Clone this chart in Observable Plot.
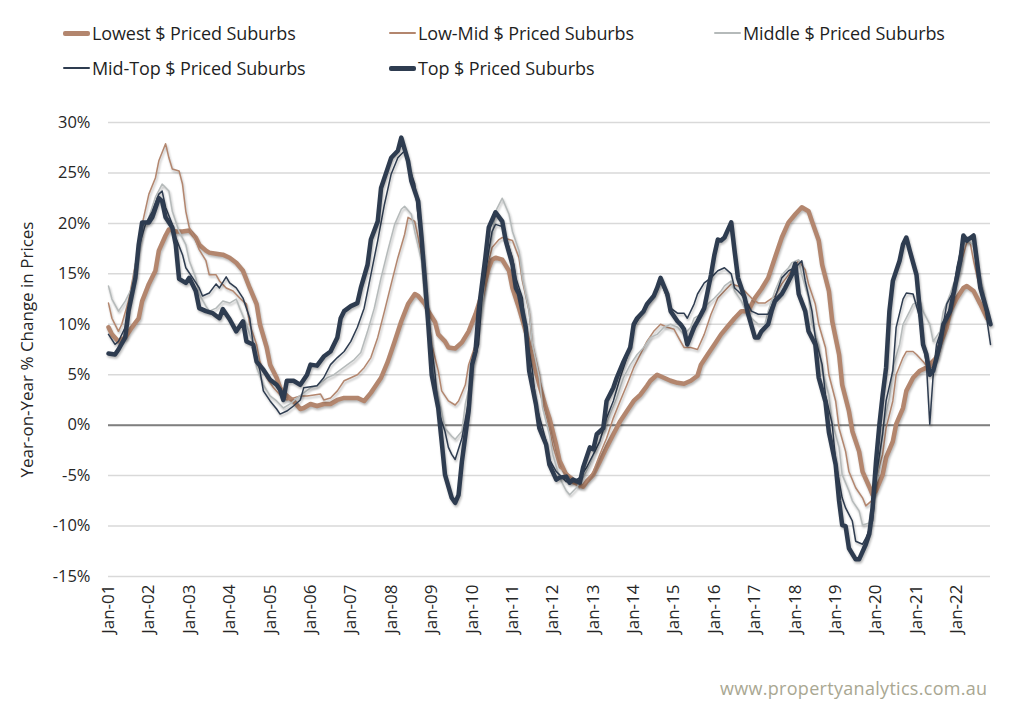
<!DOCTYPE html>
<html><head><meta charset="utf-8">
<script src="https://cdn.jsdelivr.net/npm/d3@7"></script>
<script src="https://cdn.jsdelivr.net/npm/@observablehq/plot@0.6"></script>
<style>
body{margin:0;background:#fff;font-family:"Open Sans",sans-serif;}
#wrap{position:relative;width:1024px;height:713px;overflow:hidden;}
#legend{position:relative;height:100px;}
.item{position:absolute;display:flex;align-items:center;height:24px;font-size:18px;color:#1f1f1f;white-space:nowrap;letter-spacing:-0.1px;}
.sw{width:27px;margin-right:2px;border-radius:2px;}
#caption{position:absolute;left:720px;top:676px;font-size:18px;color:#a9a792;letter-spacing:0.3px;}
</style></head>
<body><div id="wrap"><div id="legend"></div><div id="chart"></div><div id="caption">www.propertyanalytics.com.au</div></div>
<script>
const seriesNames = ["Lowest $ Priced Suburbs","Low-Mid $ Priced Suburbs","Middle $ Priced Suburbs","Mid-Top $ Priced Suburbs","Top $ Priced Suburbs"];
const seriesColors = ["#b3866e","#b3866e","#b5baba","#2e3c50","#2e3c50"];
const seriesWidths = [4.5,1.5,1.5,1.5,4.5];
const yTicks = [-15,-10,-5,0,5,10,15,20,25,30];
const xTickYears = [2001,2002,2003,2004,2005,2006,2007,2008,2009,2010,2011,2012,2013,2014,2015,2016,2017,2018,2019,2020,2021,2022];
const yLabel = "Year-on-Year % Change in Prices";

const lowest = [["2001-01",9.7],["2001-02",9.0],["2001-04",8.3],["2001-06",8.7],["2001-08",9.7],["2001-10",10.6],["2001-11",12.3],["2002-01",14.0],["2002-03",15.3],["2002-04",17.3],["2002-06",18.8],["2002-07",19.4],["2002-09",19.2],["2002-11",19.2],["2003-01",19.3],["2003-03",18.6],["2003-04",17.9],["2003-06",17.3],["2003-07",17.1],["2003-09",17.0],["2003-11",16.9],["2004-01",16.6],["2004-03",16.1],["2004-05",15.3],["2004-07",13.6],["2004-09",12.0],["2004-10",10.0],["2004-12",7.7],["2005-01",6.0],["2005-03",4.7],["2005-04",3.7],["2005-06",2.9],["2005-08",2.4],["2005-10",1.6],["2005-11",1.7],["2006-01",2.1],["2006-03",1.9],["2006-05",2.1],["2006-07",2.1],["2006-09",2.5],["2006-11",2.7],["2007-01",2.7],["2007-03",2.7],["2007-05",2.4],["2007-07",3.2],["2007-08",3.7],["2007-10",4.7],["2007-12",6.3],["2008-02",8.3],["2008-04",10.3],["2008-06",12.0],["2008-08",13.0],["2008-09",12.8],["2008-11",12.0],["2008-12",11.3],["2009-02",10.2],["2009-03",9.0],["2009-05",8.3],["2009-06",7.7],["2009-08",7.6],["2009-10",8.2],["2009-12",9.3],["2010-02",11.0],["2010-04",13.0],["2010-06",15.6],["2010-07",16.4],["2010-08",16.6],["2010-10",16.4],["2010-12",15.3],["2011-01",13.6],["2011-03",11.6],["2011-05",9.3],["2011-07",6.7],["2011-09",4.0],["2011-11",1.7],["2011-12",0.7],["2012-02",-2.0],["2012-03",-3.5],["2012-05",-4.9],["2012-07",-5.6],["2012-10",-6.1],["2012-11",-5.6],["2013-01",-4.9],["2013-03",-3.6],["2013-05",-2.2],["2013-07",-0.9],["2013-09",0.4],["2013-11",1.4],["2014-01",2.4],["2014-03",3.0],["2014-05",3.9],["2014-06",4.4],["2014-08",5.0],["2014-10",4.7],["2014-12",4.4],["2015-02",4.2],["2015-04",4.1],["2015-06",4.4],["2015-08",4.9],["2015-09",6.0],["2015-11",7.0],["2016-01",8.0],["2016-03",9.0],["2016-05",9.8],["2016-07",10.6],["2016-09",11.3],["2016-11",11.3],["2017-01",12.6],["2017-03",13.5],["2017-05",14.6],["2017-07",16.6],["2017-09",18.6],["2017-11",20.1],["2018-01",20.9],["2018-03",21.6],["2018-05",21.2],["2018-06",20.2],["2018-08",18.3],["2018-09",15.9],["2018-11",13.3],["2018-12",10.3],["2019-02",7.0],["2019-03",4.0],["2019-05",1.4],["2019-06",-0.6],["2019-08",-2.6],["2019-09",-4.6],["2019-11",-6.1],["2019-12",-6.9],["2020-01",-6.5],["2020-03",-4.9],["2020-04",-3.2],["2020-06",-1.6],["2020-07",0.1],["2020-09",1.7],["2020-10",3.4],["2020-12",4.7],["2021-02",5.4],["2021-04",5.7],["2021-05",6.0],["2021-07",6.7],["2021-08",8.0],["2021-10",9.7],["2021-11",11.3],["2022-01",12.6],["2022-03",13.6],["2022-04",13.8],["2022-06",13.3],["2022-08",12.0],["2022-10",10.6]];

const lowMid = [["2001-01",12.1],["2001-02",10.6],["2001-04",9.3],["2001-05",10.0],["2001-07",12.3],["2001-09",15.9],["2001-11",19.9],["2002-01",22.9],["2002-03",24.5],["2002-04",26.2],["2002-06",27.9],["2002-07",26.5],["2002-08",25.4],["2002-10",25.2],["2002-11",23.9],["2002-12",21.2],["2003-01",19.6],["2003-03",18.3],["2003-04",17.4],["2003-06",16.3],["2003-07",14.9],["2003-09",14.9],["2003-10",14.3],["2003-12",13.6],["2004-02",13.3],["2004-04",12.6],["2004-06",12.0],["2004-07",10.0],["2004-09",8.0],["2004-10",6.3],["2004-12",4.7],["2005-02",3.7],["2005-04",3.0],["2005-06",2.5],["2005-08",2.7],["2005-10",2.9],["2005-12",2.9],["2006-02",3.0],["2006-04",3.1],["2006-05",2.5],["2006-07",2.7],["2006-09",3.4],["2006-11",4.4],["2007-01",4.7],["2007-03",5.0],["2007-05",5.7],["2007-07",6.7],["2007-09",8.7],["2007-11",11.3],["2008-01",14.0],["2008-03",16.6],["2008-05",18.9],["2008-06",20.6],["2008-08",20.2],["2008-09",18.6],["2008-10",16.6],["2008-11",13.6],["2008-12",11.0],["2009-01",8.0],["2009-03",5.4],["2009-04",3.4],["2009-06",2.4],["2009-08",2.0],["2009-09",2.4],["2009-11",4.0],["2009-12",6.0],["2010-02",8.0],["2010-03",10.6],["2010-05",13.6],["2010-06",16.3],["2010-07",17.6],["2010-09",18.4],["2010-10",18.6],["2010-12",18.4],["2011-01",18.3],["2011-03",16.6],["2011-04",14.3],["2011-06",11.3],["2011-07",8.0],["2011-09",5.0],["2011-10",2.4],["2011-12",-0.3],["2012-01",-2.0],["2012-03",-4.2],["2012-05",-4.7],["2012-07",-5.2],["2012-09",-6.2],["2012-11",-5.6],["2013-01",-4.6],["2013-03",-2.9],["2013-05",-1.3],["2013-07",0.7],["2013-09",2.4],["2013-11",4.0],["2014-01",5.7],["2014-03",7.0],["2014-05",8.3],["2014-07",9.3],["2014-09",10.0],["2014-11",9.7],["2015-01",9.5],["2015-03",8.3],["2015-04",7.7],["2015-06",7.7],["2015-08",7.5],["2015-10",9.0],["2015-12",11.0],["2016-02",12.6],["2016-04",13.3],["2016-06",14.0],["2016-08",13.8],["2016-10",13.3],["2016-12",12.6],["2017-02",12.1],["2017-04",12.1],["2017-07",12.8],["2017-09",14.0],["2017-11",14.9],["2018-01",15.9],["2018-02",16.3],["2018-04",15.4],["2018-05",14.0],["2018-07",12.0],["2018-08",10.0],["2018-10",7.7],["2018-11",5.0],["2019-01",2.4],["2019-02",-0.3],["2019-04",-2.6],["2019-05",-4.6],["2019-07",-6.2],["2019-09",-7.2],["2019-10",-8.0],["2019-12",-7.4],["2020-01",-5.2],["2020-03",-2.9],["2020-04",-0.3],["2020-06",2.4],["2020-07",5.0],["2020-09",6.7],["2020-10",7.3],["2020-12",7.3],["2021-01",7.0],["2021-03",6.3],["2021-04",5.9],["2021-06",5.7],["2021-07",7.0],["2021-09",9.0],["2021-10",10.6],["2021-12",12.6],["2022-01",14.6],["2022-03",16.9],["2022-04",18.1],["2022-05",18.1],["2022-06",16.3],["2022-08",13.3],["2022-10",10.6]];

const middle = [["2001-01",13.8],["2001-02",12.5],["2001-04",11.3],["2001-06",12.3],["2001-08",13.6],["2001-09",15.9],["2001-11",19.2],["2002-01",20.6],["2002-03",22.6],["2002-05",23.9],["2002-07",23.2],["2002-08",21.2],["2002-10",19.2],["2002-12",17.9],["2003-01",16.3],["2003-03",14.6],["2003-04",13.0],["2003-06",11.8],["2003-07",11.3],["2003-09",11.6],["2003-11",12.3],["2004-01",12.1],["2004-03",12.5],["2004-04",11.6],["2004-06",10.0],["2004-08",8.0],["2004-09",5.7],["2004-11",4.0],["2005-01",2.9],["2005-03",2.4],["2005-05",1.7],["2005-07",2.1],["2005-09",2.7],["2005-11",3.2],["2006-01",3.7],["2006-03",3.9],["2006-06",4.7],["2006-08",5.0],["2006-10",5.5],["2006-12",6.0],["2007-02",6.5],["2007-04",7.2],["2007-06",9.3],["2007-08",11.6],["2007-10",14.6],["2007-12",17.3],["2008-02",19.9],["2008-04",21.4],["2008-05",21.7],["2008-07",20.9],["2008-08",19.2],["2008-10",16.3],["2008-11",12.0],["2009-01",8.0],["2009-02",4.4],["2009-04",1.4],["2009-05",-0.3],["2009-07",-1.1],["2009-08",-1.4],["2009-10",-0.6],["2009-11",2.1],["2010-01",5.0],["2010-02",8.0],["2010-04",11.3],["2010-05",15.3],["2010-07",18.6],["2010-08",21.2],["2010-10",22.5],["2010-12",20.9],["2011-01",19.2],["2011-03",17.3],["2011-04",14.6],["2011-06",11.3],["2011-07",8.0],["2011-09",4.7],["2011-10",1.7],["2011-12",-0.9],["2012-01",-2.9],["2012-03",-5.2],["2012-05",-6.5],["2012-06",-6.9],["2012-08",-6.2],["2012-10",-5.2],["2012-12",-3.9],["2013-02",-2.2],["2013-04",-0.6],["2013-06",1.1],["2013-08",2.7],["2013-10",4.7],["2013-12",6.0],["2014-02",7.0],["2014-04",7.7],["2014-06",8.7],["2014-08",9.0],["2014-10",9.7],["2014-12",10.0],["2015-02",9.7],["2015-04",9.0],["2015-06",9.7],["2015-07",10.6],["2015-09",11.0],["2015-11",12.0],["2016-01",12.6],["2016-03",13.3],["2016-04",13.8],["2016-06",14.3],["2016-07",13.3],["2016-09",12.3],["2016-10",11.6],["2016-12",10.6],["2017-02",10.0],["2017-04",10.0],["2017-05",11.3],["2017-07",13.3],["2017-09",14.9],["2017-11",15.6],["2017-12",16.1],["2018-02",16.4],["2018-03",14.9],["2018-05",12.6],["2018-06",10.0],["2018-08",8.0],["2018-09",5.4],["2018-11",3.0],["2018-12",0.3],["2019-02",-2.2],["2019-03",-4.9],["2019-05",-6.5],["2019-06",-7.5],["2019-08",-8.5],["2019-09",-9.9],["2019-11",-9.7],["2019-12",-7.2],["2020-02",-3.6],["2020-03",-0.3],["2020-05",2.7],["2020-06",5.7],["2020-08",8.0],["2020-09",10.0],["2020-11",11.3],["2020-12",12.0],["2021-02",12.3],["2021-03",11.3],["2021-05",10.0],["2021-06",8.3],["2021-08",9.3],["2021-09",11.3],["2021-11",13.0],["2021-12",14.0],["2022-02",15.3],["2022-03",17.9],["2022-04",18.3],["2022-06",17.9],["2022-07",15.6],["2022-09",13.3],["2022-10",10.6]];

const midTop = [["2001-01",9.0],["2001-03",8.0],["2001-04",8.3],["2001-06",9.7],["2001-07",11.6],["2001-09",14.6],["2001-10",17.6],["2001-12",19.9],["2002-02",21.2],["2002-04",22.9],["2002-05",23.2],["2002-06",21.6],["2002-08",19.9],["2002-09",18.6],["2002-11",16.9],["2002-12",15.6],["2003-02",14.6],["2003-04",13.6],["2003-05",12.8],["2003-07",13.1],["2003-09",14.0],["2003-10",13.6],["2003-12",14.7],["2004-01",14.1],["2004-03",13.6],["2004-05",12.6],["2004-07",10.6],["2004-08",8.0],["2004-10",5.4],["2004-11",3.4],["2005-01",2.4],["2005-03",1.6],["2005-04",1.1],["2005-06",1.4],["2005-08",1.9],["2005-10",2.5],["2005-11",3.7],["2006-01",3.8],["2006-03",3.9],["2006-05",4.7],["2006-07",6.0],["2006-09",6.7],["2006-11",7.3],["2007-01",8.3],["2007-03",9.7],["2007-05",11.6],["2007-07",14.9],["2007-09",18.3],["2007-11",21.9],["2008-01",24.9],["2008-03",26.5],["2008-05",27.2],["2008-06",25.9],["2008-08",23.9],["2008-09",20.6],["2008-11",15.6],["2008-12",10.6],["2009-02",5.0],["2009-03",1.4],["2009-05",-0.6],["2009-06",-2.2],["2009-07",-2.9],["2009-08",-3.4],["2009-10",-1.3],["2009-12",2.4],["2010-01",5.7],["2010-03",8.0],["2010-04",12.6],["2010-06",17.3],["2010-07",19.2],["2010-08",19.9],["2010-10",19.7],["2010-11",18.6],["2011-01",16.6],["2011-02",14.6],["2011-04",12.6],["2011-05",9.3],["2011-07",5.4],["2011-08",2.1],["2011-10",-0.3],["2011-11",-1.6],["2011-12",-3.4],["2012-02",-4.6],["2012-03",-4.9],["2012-05",-5.6],["2012-07",-5.6],["2012-09",-5.2],["2012-11",-4.2],["2013-01",-2.9],["2013-03",-1.6],["2013-05",0.7],["2013-07",2.4],["2013-09",4.7],["2013-11",6.7],["2014-01",9.7],["2014-02",10.3],["2014-04",11.3],["2014-06",12.3],["2014-08",13.3],["2014-09",14.3],["2014-11",12.6],["2014-12",11.6],["2015-02",11.1],["2015-04",11.1],["2015-05",10.6],["2015-07",12.0],["2015-08",13.0],["2015-10",14.1],["2015-12",14.6],["2016-02",15.3],["2016-04",15.6],["2016-06",15.0],["2016-07",13.6],["2016-08",13.3],["2016-10",12.6],["2016-12",11.3],["2017-02",11.0],["2017-05",11.0],["2017-07",12.6],["2017-09",14.6],["2017-11",15.3],["2018-01",15.6],["2018-03",16.3],["2018-04",14.3],["2018-06",11.3],["2018-07",8.7],["2018-09",6.0],["2018-10",3.0],["2018-12",0.1],["2019-01",-3.6],["2019-03",-7.2],["2019-04",-8.2],["2019-06",-9.5],["2019-07",-11.5],["2019-09",-11.8],["2019-10",-11.2],["2019-12",-9.5],["2020-01",-5.2],["2020-03",-0.9],["2020-04",2.4],["2020-06",5.4],["2020-07",9.7],["2020-09",12.5],["2020-10",13.1],["2020-12",13.0],["2021-02",10.6],["2021-03",8.3],["2021-04",6.0],["2021-05",0.1],["2021-06",5.0],["2021-07",8.0],["2021-09",10.0],["2021-10",12.0],["2021-12",13.3],["2022-01",15.6],["2022-03",18.6],["2022-04",18.6],["2022-06",18.6],["2022-07",15.6],["2022-09",12.6],["2022-11",8.0]];

const top_ = [["2001-01",7.1],["2001-03",7.0],["2001-04",7.5],["2001-06",8.7],["2001-07",11.3],["2001-09",14.6],["2001-10",17.9],["2001-11",20.1],["2002-01",20.1],["2002-02",20.6],["2002-04",22.5],["2002-05",22.2],["2002-06",20.6],["2002-08",19.6],["2002-09",17.9],["2002-10",14.5],["2002-12",14.1],["2003-01",14.6],["2003-03",13.3],["2003-04",11.6],["2003-06",11.3],["2003-08",11.1],["2003-10",10.6],["2003-11",11.5],["2004-01",10.5],["2004-03",9.3],["2004-05",10.3],["2004-06",8.3],["2004-08",8.0],["2004-09",6.3],["2004-11",5.5],["2005-01",4.5],["2005-03",4.0],["2005-04",3.5],["2005-05",2.5],["2005-06",4.4],["2005-08",4.4],["2005-10",4.0],["2005-12",5.0],["2006-01",6.0],["2006-03",5.9],["2006-05",6.8],["2006-07",7.3],["2006-09",8.7],["2006-10",10.6],["2006-11",11.3],["2007-01",11.8],["2007-03",12.1],["2007-04",13.6],["2007-06",15.9],["2007-07",18.4],["2007-09",20.2],["2007-10",23.5],["2007-12",25.5],["2008-01",26.5],["2008-03",27.2],["2008-04",28.5],["2008-06",26.2],["2008-07",24.2],["2008-09",22.2],["2008-10",18.6],["2008-11",14.3],["2008-12",10.0],["2009-01",5.0],["2009-03",1.7],["2009-04",-1.6],["2009-05",-4.9],["2009-07",-7.2],["2009-08",-7.7],["2009-09",-6.9],["2009-10",-3.6],["2009-12",1.4],["2010-01",6.0],["2010-02",7.3],["2010-03",11.3],["2010-05",16.6],["2010-06",19.6],["2010-08",21.1],["2010-10",20.2],["2010-11",18.3],["2011-01",15.9],["2011-02",13.6],["2011-03",13.0],["2011-05",9.7],["2011-06",5.4],["2011-08",2.1],["2011-09",-0.3],["2011-11",-1.9],["2011-12",-3.9],["2012-02",-5.4],["2012-03",-5.2],["2012-05",-5.1],["2012-06",-5.7],["2012-07",-5.4],["2012-09",-5.7],["2012-10",-4.2],["2012-12",-2.2],["2013-01",-2.4],["2013-02",-0.9],["2013-04",-0.3],["2013-05",2.4],["2013-07",3.7],["2013-08",4.7],["2013-10",6.3],["2013-12",7.7],["2014-01",10.0],["2014-02",10.6],["2014-04",11.3],["2014-05",12.0],["2014-07",12.8],["2014-08",13.6],["2014-09",14.6],["2014-11",13.0],["2014-12",11.3],["2015-02",10.3],["2015-03",10.0],["2015-04",9.5],["2015-05",8.0],["2015-07",9.7],["2015-08",10.3],["2015-10",11.6],["2015-12",14.9],["2016-01",16.9],["2016-02",18.4],["2016-03",18.3],["2016-04",18.6],["2016-06",20.1],["2016-07",17.3],["2016-08",14.6],["2016-10",12.6],["2016-11",11.0],["2017-01",8.7],["2017-02",8.7],["2017-03",9.3],["2017-05",10.0],["2017-06",11.3],["2017-07",12.3],["2017-09",13.0],["2017-10",13.6],["2017-12",14.9],["2018-01",16.0],["2018-02",13.0],["2018-04",11.3],["2018-05",9.3],["2018-07",8.0],["2018-08",4.7],["2018-10",2.3],["2018-11",-0.7],["2019-01",-3.9],["2019-02",-7.5],["2019-03",-9.9],["2019-04",-10.0],["2019-05",-12.2],["2019-07",-13.3],["2019-08",-13.3],["2019-10",-11.8],["2019-11",-10.8],["2019-12",-8.2],["2020-01",-3.6],["2020-02",0.1],["2020-03",3.0],["2020-04",5.7],["2020-05",11.3],["2020-06",14.3],["2020-08",16.3],["2020-09",17.9],["2020-10",18.6],["2020-11",17.3],["2021-01",14.9],["2021-02",11.3],["2021-03",8.0],["2021-04",7.0],["2021-05",5.0],["2021-06",5.4],["2021-08",8.0],["2021-09",10.0],["2021-11",11.3],["2021-12",13.0],["2022-02",16.3],["2022-03",18.8],["2022-04",18.3],["2022-06",18.8],["2022-07",16.3],["2022-08",13.6],["2022-10",11.3],["2022-11",10.0]];

const seriesData = [lowest, lowMid, middle, midTop, top_];
const parse = d3.utcParse("%Y-%m");

// legend
const legend = document.getElementById("legend");
const legendPos = [[63,21],[389,21],[714,21],[63,56],[389,56]];
seriesNames.forEach((name, i) => {
  const it = document.createElement("div");
  it.className = "item";
  it.style.left = legendPos[i][0] + "px";
  it.style.top = legendPos[i][1] + "px";
  const sw = document.createElement("div");
  sw.className = "sw";
  sw.style.height = (seriesWidths[i] > 2 ? 5 : 2) + "px";
  sw.style.background = seriesColors[i];
  it.appendChild(sw);
  const t = document.createElement("span");
  t.textContent = name;
  it.appendChild(t);
  legend.appendChild(it);
});

const lineMarks = seriesData.map((s, i) =>
  Plot.line(s.map(([d, v]) => ({date: parse(d), value: v})), {
    x: "date", y: "value", stroke: seriesColors[i], strokeWidth: seriesWidths[i],
    strokeLinejoin: "round", strokeLinecap: "round"
  })
);

const chart = Plot.plot({
  width: 1024, height: 551,
  marginTop: 22, marginBottom: 75, marginLeft: 108, marginRight: 34,
  x: {type: "utc", domain: [new Date(Date.UTC(2001,0,1)), new Date(Date.UTC(2022,10,1))]},
  y: {domain: [-15, 30]},
  style: {fontFamily: '"Open Sans", sans-serif', fontSize: "15px", color: "#262626", background: "#fff", overflow: "visible"},
  marks: [
    Plot.gridY({ticks: yTicks, stroke: "#d9d9d9", strokeOpacity: 1, strokeWidth: 1.5}),
    Plot.ruleY([0], {stroke: "#7f7f7f", strokeWidth: 2}),
    ...lineMarks,
    Plot.axisY({ticks: yTicks, tickSize: 0, tickPadding: 18, fontSize: 16.5, tickFormat: d => d + "%", label: null}),
    Plot.text([yLabel], {text: d => d, frameAnchor: "left", textAnchor: "middle", dx: -81, rotate: -90, fontSize: 17, fill: "#262626"}),
    Plot.axisX({ticks: xTickYears.map(y => new Date(Date.UTC(y,0,1))), tickSize: 0, tickPadding: 8, fontSize: 17, tickRotate: -90, tickFormat: d => "Jan-" + String(d.getUTCFullYear()).slice(2), label: null})
  ]
});
document.getElementById("chart").appendChild(chart);
// soft shadow under the series lines, as in the original
chart.querySelectorAll('g[aria-label="line"] path').forEach(p => p.style.filter = "drop-shadow(1px 2px 1.2px rgba(0,0,0,0.28))");
</script>
</body></html>
